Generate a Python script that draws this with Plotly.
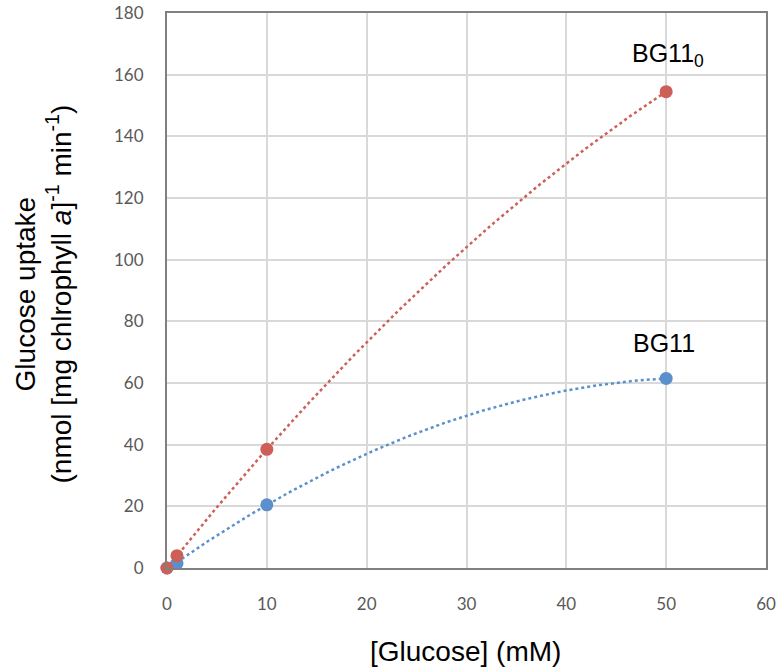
import numpy as np
import plotly.graph_objects as go

glucose_mM = [0, 1, 10, 50]
uptake_bg110 = [0, 4, 38.5, 154.5]
uptake_bg11 = [0, 1.5, 20.5, 61.5]

x_ticks = [0, 10, 20, 30, 40, 50, 60]
y_ticks = [0, 20, 40, 60, 80, 100, 120, 140, 160, 180]

red = "#CD5F57"
blue = "#5B90CC"

fig = go.Figure()


def trend(xs, ys):
    coef = np.polyfit(xs, ys, 2)
    xx = np.linspace(min(xs), max(xs), 120)
    return xx, np.polyval(coef, xx)


for ys, col in [(uptake_bg11, blue), (uptake_bg110, red)]:
    tx, ty = trend(glucose_mM, ys)
    fig.add_trace(go.Scatter(x=tx, y=ty, mode="lines",
                             line=dict(color=col, width=2.5, dash="dot"),
                             hoverinfo="skip", showlegend=False))

fig.add_trace(go.Scatter(x=glucose_mM, y=uptake_bg11, mode="markers", cliponaxis=False,
                         marker=dict(color=blue, size=13), showlegend=False))
fig.add_trace(go.Scatter(x=glucose_mM, y=uptake_bg110, mode="markers", cliponaxis=False,
                         marker=dict(color=red, size=13), showlegend=False))

title_font = dict(family="Liberation Sans, Arial", size=28, color="black")

fig.add_annotation(x=50.2, y=166.5, text="BG11<sub>0</sub>", showarrow=False,
                   font=dict(family="Liberation Sans, Arial", size=25, color="black"))
fig.add_annotation(x=49.75, y=73, text="BG11", showarrow=False,
                   font=dict(family="Liberation Sans, Arial", size=25, color="black"))

# axis titles
fig.add_annotation(xref="paper", yref="paper", x=0.5, y=0, xshift=-1.5, yshift=-83,
                   xanchor="center", yanchor="middle", showarrow=False,
                   text="[Glucose] (mM)", font=title_font)
fig.add_annotation(xref="paper", yref="paper", x=0, y=0.5, xshift=-124, yshift=-4,
                   xanchor="center", yanchor="middle", showarrow=False, textangle=-90,
                   text="Glucose uptake<br>(nmol [mg chlrophyll <i>a</i>]<sup>-1</sup> min<sup>-1</sup>)",
                   font=title_font)

fig.update_layout(
    width=778, height=672,
    margin=dict(l=167, r=12, t=13, b=104),
    plot_bgcolor="white", paper_bgcolor="white",
    showlegend=False,
)
fig.update_xaxes(range=[0, 60], tickvals=x_ticks, showgrid=True, automargin=False,
                 gridcolor="#D9D9D9", gridwidth=1.5,
                 showline=True, linecolor="#808080", linewidth=2, mirror=True,
                 ticks="", ticklabelstandoff=20, zeroline=False,
                 tickfont=dict(family="Lato, Open Sans", size=17, color="#595959"))
fig.update_yaxes(range=[0, 180], tickvals=y_ticks, showgrid=True, automargin=False,
                 gridcolor="#D9D9D9", gridwidth=1.5,
                 showline=True, linecolor="#808080", linewidth=2, mirror=True,
                 ticks="", ticklabelstandoff=18, zeroline=False,
                 tickfont=dict(family="Lato, Open Sans", size=17, color="#595959"))

fig.write_html("out.html", config={"displayModeBar": False},
               post_script="document.body.style.margin='0';document.body.style.overflow='hidden';")
